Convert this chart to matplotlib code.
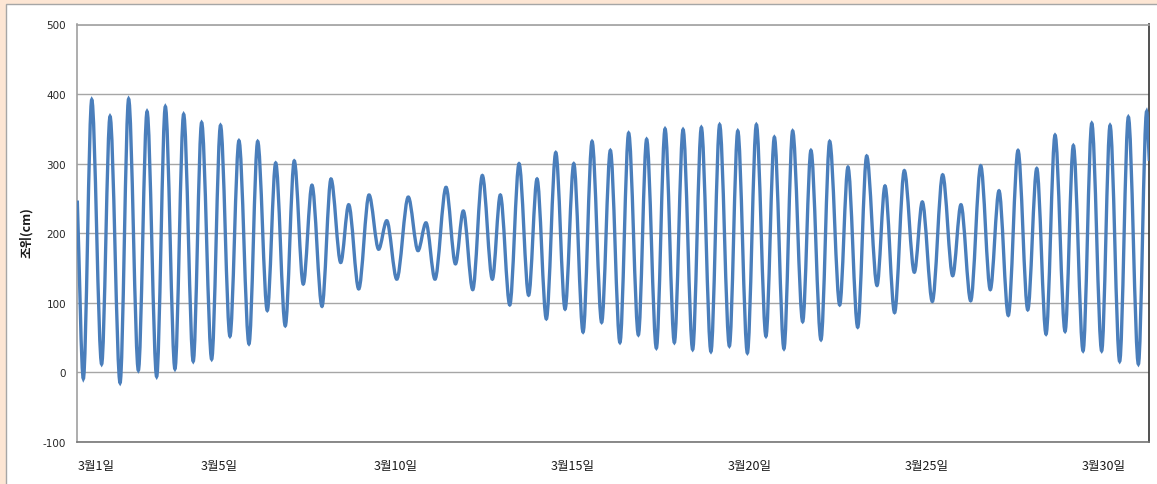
import matplotlib.pyplot as plt
from matplotlib.path import Path
from matplotlib.patches import PathPatch, Rectangle

plt.rcParams['axes.unicode_minus'] = False

# tide extremes: hours since 3/1 00:00, level in cm
hours = [0.0, 4.1, 9.8, 16.5, 22.2, 29.0, 34.8, 41.4, 47.3, 53.8, 59.7,
         66.2, 72.1, 78.6, 84.3, 91.1, 97.1, 103.5, 109.6, 116.4, 122.3,
         128.8, 134.5, 141.0, 147.1, 153.2, 159.1, 165.9, 172.0, 178.6, 184.0,
         190.8, 197.8, 204.3, 209.8, 216.6, 224.4, 231.0, 236.4, 242.5, 250.0,
         256.4, 261.7, 268.1, 274.6, 281.4, 286.8, 293.2, 299.5, 306.0, 311.7,
         318.0, 324.4, 330.7, 336.6, 342.9, 349.0, 355.5, 361.4, 367.9, 373.8,
         380.4, 386.0, 392.6, 398.5, 404.8, 410.7, 417.2, 423.1, 429.6, 435.5,
         442.1, 447.8, 454.3, 460.4, 466.9, 472.6, 479.1, 485.0, 491.8, 497.4,
         504.2, 510.1, 516.9, 522.5, 529.1, 535.2, 542.2, 547.6, 554.1, 560.7,
         567.5, 572.9, 579.7, 586.7, 593.5, 599.1, 605.7, 612.5, 619.0, 624.9,
         631.2, 637.8, 644.4, 650.5, 656.8, 662.9, 669.7, 675.3, 681.9, 687.8,
         694.5, 700.2, 706.7, 712.6, 719.4, 725.0, 726.8]
levels = [247, -9, 392, 12, 368, -15, 393, 3, 375, -6, 382,
          5, 371, 16, 359, 19, 355, 52, 333, 41, 332,
          89, 301, 67, 304, 127, 269, 95, 278, 158, 241,
          120, 255, 177, 218, 134, 252, 175, 215, 134, 266,
          156, 232, 119, 283, 134, 255, 97, 300, 111, 278,
          77, 316, 91, 300, 58, 332, 72, 319, 43, 344,
          54, 335, 35, 350, 43, 349, 33, 352, 30, 356,
          38, 347, 28, 356, 52, 338, 34, 347, 73, 319,
          47, 332, 97, 295, 65, 311, 125, 268, 86, 290,
          144, 245, 102, 284, 139, 241, 103, 297, 119, 261,
          82, 319, 90, 293, 55, 341, 59, 326, 31, 358,
          31, 355, 16, 367, 12, 375, 304]

tick_hours = [0, 96, 216, 336, 456, 576, 696]
tick_labels = ['3월1일', '3월5일', '3월10일', '3월15일', '3월20일', '3월25일', '3월30일']


def tide_path(t, h):
    # smooth curve through the extremes, flat at each high / low water
    verts = [(t[0], h[0])]
    codes = [Path.MOVETO]
    for i in range(1, len(t)):
        dt = t[i] - t[i - 1]
        y0 = h[i - 1] if i > 1 else h[i - 1] + (h[i] - h[i - 1]) / 3
        y1 = h[i] if i < len(t) - 1 else h[i] - (h[i] - h[i - 1]) / 3
        verts += [(t[i - 1] + dt / 3, y0), (t[i] - dt / 3, y1), (t[i], h[i])]
        codes += [Path.CURVE4] * 3
    return Path(verts, codes)


fig = plt.figure(figsize=(11.57, 4.85), dpi=100)
fig.patch.set_facecolor('#fde6d4')
fig.patches.append(Rectangle((6 / 1157, -0.02), 1.0, 1.0 - 5 / 485 + 0.02,
                             transform=fig.transFigure, facecolor='white',
                             edgecolor='#a6a6a6', linewidth=1.0, zorder=-5))

ax = fig.add_axes([77.3 / 1157, 1 - 443 / 485, 1072 / 1157, 417.5 / 485])
ax.set_facecolor('white')

ax.add_patch(PathPatch(tide_path(hours, levels), fill=False,
                       edgecolor='#4a7ebb', linewidth=2.4, zorder=3))

ax.set_xlim(0, 726.8)
ax.set_ylim(-100, 500)
ax.set_yticks(range(-100, 501, 100))
ax.grid(axis='y', color='#a6a6a6', linewidth=1.0)
ax.set_axisbelow(True)

ax.set_xticks(tick_hours, tick_labels)
for lab in ax.get_xticklabels():
    lab.set_family(['Noto Sans CJK KR', 'DejaVu Sans'])
    lab.set_fontsize(9)
    lab.set_color('#1a1a1a')
ax.get_xticklabels()[0].set_horizontalalignment('left')
ax.tick_params(axis='x', length=0, pad=12)
ax.tick_params(axis='y', length=0, pad=8, labelsize=7.5, labelcolor='#262626')

ax.spines['left'].set_color('#a0a0a0')
ax.spines['top'].set_color('#a0a0a0')
ax.spines['bottom'].set_color('#767676')
ax.spines['right'].set_color('#333333')
for s in ax.spines.values():
    s.set_linewidth(1.2)

ax.set_ylabel('조위(cm)', family=['Noto Sans CJK KR', 'DejaVu Sans'],
              fontsize=9, fontweight='bold', color='#1a1a1a')
ax.yaxis.set_label_coords(-0.041, 0.503)

fig.savefig('out.png', dpi=100, facecolor=fig.get_facecolor())
